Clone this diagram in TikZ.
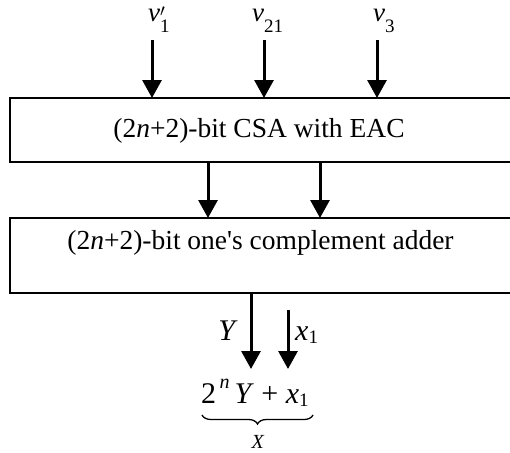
\documentclass[tikz,border=0pt]{standalone}
\usepackage{fontspec}
\setmainfont{Liberation Serif}
\usetikzlibrary{arrows.meta,decorations.pathreplacing}
\newcommand{\subs}[2][-0.4em]{\raisebox{#1}{\fontsize{19}{19}\selectfont #2}}
\begin{document}
\begin{tikzpicture}[x=1pt,y=-1pt,
  blk/.style={draw,line width=2pt,inner sep=0pt,anchor=north west},
  lbl/.style={inner sep=0pt,font=\fontsize{27}{30}\selectfont},
  big/.style={inner sep=0pt,font=\fontsize{30}{34}\selectfont},
  arr/.style={line width=3pt,-{Triangle[width=19pt,length=18pt]},shorten >=-1pt}]
\clip (0,0) rectangle (510,452);
\fill[white] (0,0) rectangle (510,452);
% boxes
\node[blk,minimum width=540pt,minimum height=64pt] (csa) at (9,97) {};
\node[blk,minimum width=540pt,minimum height=75pt] (oca) at (9,217) {};
\node[lbl,font=\fontsize{27.5}{30}\selectfont,anchor=base] (csat) at (259,137) {(2\textit{n}+2)-bit CSA with EAC};
\node[lbl,font=\fontsize{27.5}{30}\selectfont,anchor=base] (ocat) at (260.5,249) {(2\textit{n}+2)-bit one\textquotesingle s complement adder};
% inputs
\node[lbl,anchor=base west] (v1) at (148,22) {\textit{v}\rlap{\raisebox{0.2em}{\fontsize{18}{18}\selectfont$\prime$}}\subs{1}};
\node[lbl,anchor=base west] (v21) at (252,22) {\textit{v}\subs{21}};
\node[lbl,anchor=base west] (v3) at (373,22) {\textit{v}\subs{3}};
\coordinate (i1) at (152,40);
\coordinate (i2) at (264,40);
\coordinate (i3) at (377,40);
\draw[arr] (i1) -- (i1 |- csa.north);
\draw[arr] (i2) -- (i2 |- csa.north);
\draw[arr] (i3) -- (i3 |- csa.north);
% middle
\coordinate (m1) at (208,0);
\coordinate (m2) at (320,0);
\draw[arr] (m1 |- csa.south) -- (m1 |- oca.north);
\draw[arr] (m2 |- csa.south) -- (m2 |- oca.north);
% outputs
\coordinate (yo) at (251,0);
\coordinate (ye) at (251,368);
\coordinate (xs) at (288,310);
\coordinate (xe) at (288,368);
\draw[arr] (yo |- oca.south) -- (ye);
\draw[arr] (xs) -- (xe);
\node[big,anchor=base east] (ylab) at (238,340) {\textit{Y}};
\node[big,anchor=base west] (xlab) at (295,340) {\textit{x}\subs[-0.1em]{1}};
\node[big,anchor=base west] (expr) at (201,403) {2\raisebox{0.5em}{\fontsize{20}{20}\selectfont\,\textit{n}}\,\textit{Y} + \textit{x}\subs[-0.1em]{1}};
\draw[line width=1.3pt,decoration={brace,mirror,amplitude=9pt},decorate] (202,415) -- (313,415);
\node[inner sep=0pt,anchor=base,font=\fontsize{20}{22}\selectfont] (xx) at (258,448) {\textit{X}};
\end{tikzpicture}
\end{document}
